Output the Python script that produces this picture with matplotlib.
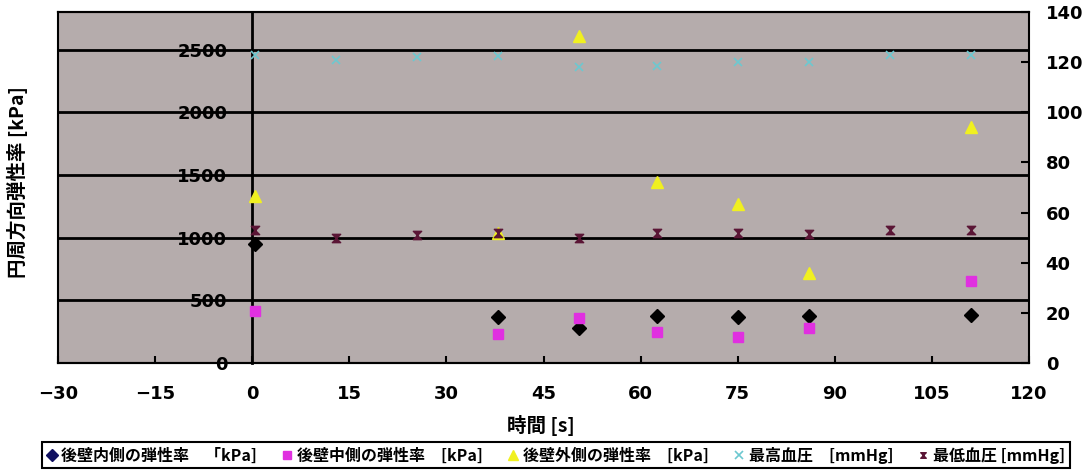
import matplotlib.pyplot as plt
from matplotlib.path import Path
from matplotlib.lines import Line2D

plt.rcParams['font.family'] = ['Noto Sans CJK JP', 'DejaVu Sans']

# elastic modulus of the posterior wall [kPa]
time_wall = [0.5, 38, 50.5, 62.5, 75, 86, 111]
inner_kpa = [950, 370, 280, 375, 370, 375, 385]
middle_kpa = [415, 232, 360, 248, 208, 280, 655]
outer_kpa = [1335, 1040, 2605, 1445, 1270, 720, 1885]

# blood pressure [mmHg]
time_bp = [0.5, 13, 25.5, 38, 50.5, 62.5, 75, 86, 98.5, 111]
systolic = [122.8, 121, 122, 122.4, 118, 118.5, 120, 120, 122.8, 122.8]
diastolic = [53, 50, 51, 52, 50, 52, 52, 51.5, 53, 53]

x_ticks = [-30, -15, 0, 15, 30, 45, 60, 75, 90, 105, 120]
left_ticks = [0, 500, 1000, 1500, 2000, 2500]
right_ticks = [0, 20, 40, 60, 80, 100, 120, 140]

labels = ['後壁内側の弾性率　「kPa]', '後壁中側の弾性率　[kPa]', '後壁外側の弾性率　[kPa]',
          '最高血圧　[mmHg]', '最低血圧 [mmHg]']

# hourglass-like marker for the diastolic pressure
hourglass = Path([(-1, 1), (1, 1), (0, 0), (-1, 1), (-1, -1), (1, -1), (0, 0), (-1, -1)],
                 [Path.MOVETO, Path.LINETO, Path.LINETO, Path.CLOSEPOLY,
                  Path.MOVETO, Path.LINETO, Path.LINETO, Path.CLOSEPOLY])

fig = plt.figure(figsize=(10.88, 4.73), dpi=100)
ax = fig.add_axes([58 / 1088, 1 - 363 / 473, 971 / 1088, 351 / 473])
ax.set_facecolor('#b5acac')
ax.set_xlim(-30, 120)
ax.set_ylim(0, 2800)
ax.set_xticks(x_ticks)
ax.set_yticks(left_ticks)
ax.grid(axis='y', color='black', linewidth=2)
ax.set_axisbelow(True)

ax.spines['left'].set_position(('data', 0))
ax.spines['left'].set_linewidth(2)
ax.spines['right'].set_visible(False)
ax.spines['top'].set_linewidth(1.5)
ax.spines['bottom'].set_linewidth(1.5)
ax.tick_params(axis='x', direction='in', length=5, width=1.5, pad=16)
ax.tick_params(axis='y', length=0, pad=18)
for lab in ax.get_xticklabels() + ax.get_yticklabels():
    lab.set_family('DejaVu Sans')
    lab.set_fontweight('bold')
    lab.set_fontsize(13)

ax.plot(time_wall, inner_kpa, linestyle='none', marker='D', markersize=7,
        color='black', zorder=3)
ax.plot(time_wall, middle_kpa, linestyle='none', marker='s', markersize=7,
        color='#e030e0', zorder=3)
ax.plot(time_wall, outer_kpa, linestyle='none', marker='^', markersize=8,
        color='#f0f020', zorder=3)

ax2 = ax.twinx()
ax2.set_ylim(0, 140)
ax2.set_yticks(right_ticks)
ax2.tick_params(axis='y', direction='in', length=6, width=1.5, pad=12)
for s in ax2.spines.values():
    s.set_linewidth(1.5)
for lab in ax2.get_yticklabels():
    lab.set_family('DejaVu Sans')
    lab.set_fontweight('bold')
    lab.set_fontsize(13)

ax2.plot(time_bp, systolic, linestyle='none', marker='x', markersize=6,
         markeredgewidth=1.2, color='#6cc8d0')
ax2.plot(time_bp, diastolic, linestyle='none', marker=hourglass, markersize=6,
         color='#5a1535')

fig.text(0.016, 1 - 182 / 473, '円周方向弾性率 [kPa]', rotation=90, ha='center',
         va='center', fontsize=14, fontweight='bold')
fig.text(541 / 1088, 1 - 425 / 473, '時間 [s]', ha='center', va='center',
         fontsize=14, fontweight='bold')

handles = [
    Line2D([], [], linestyle='none', marker='D', markersize=6, color='#101060'),
    Line2D([], [], linestyle='none', marker='s', markersize=6, color='#e030e0'),
    Line2D([], [], linestyle='none', marker='^', markersize=7, color='#f0f020'),
    Line2D([], [], linestyle='none', marker='x', markersize=6, markeredgewidth=1.2,
           color='#6cc8d0'),
    Line2D([], [], linestyle='none', marker=hourglass, markersize=4, color='#5a1535'),
]
leg = fig.legend(handles, labels, loc='center', bbox_to_anchor=(556 / 1088, 1 - 455 / 473),
                 ncol=5, fancybox=False, edgecolor='black', framealpha=1,
                 handlelength=0.6, handletextpad=0.3, columnspacing=1.6,
                 borderpad=0.3, prop={'size': 11.5, 'weight': 'bold'})
leg.get_frame().set_linewidth(1.5)

fig.savefig('out.png', dpi=100)
